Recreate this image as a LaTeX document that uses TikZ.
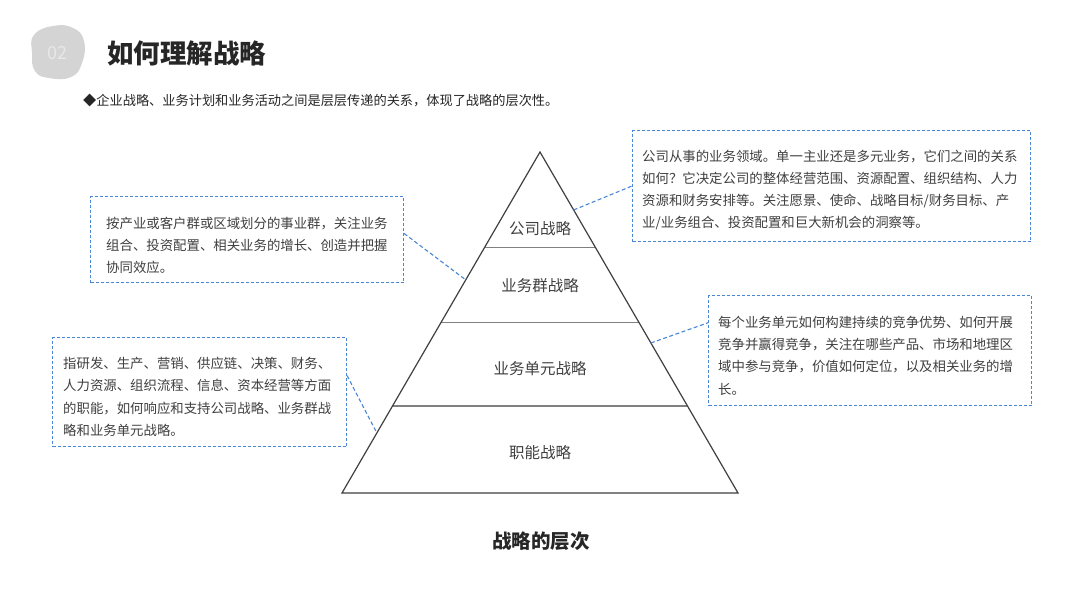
\documentclass[tikz,border=0pt]{standalone}
\usepackage{xcolor}
\usepackage{fontspec}
\setmainfont{Noto Sans CJK SC}
\usetikzlibrary{calc, positioning}

\definecolor{testo}{RGB}{64,64,64}
\definecolor{scuro}{RGB}{38,38,38}
\definecolor{bordo}{RGB}{74,134,214}
\definecolor{macchia}{RGB}{212,212,212}
\definecolor{cifra}{RGB}{232,232,232}

\begin{document}
\begin{tikzpicture}[x=1pt, y=-1pt,
    notabox/.style={draw=bordo, line width=1pt, dash pattern=on 3pt off 2pt, inner sep=0pt, anchor=north west},
    notatesto/.style={anchor=west, align=left, inner sep=0pt, text=testo, font=\fontsize{13.4}{22.3}\selectfont},
    livello/.style={text=testo, inner sep=0pt, font=\fontsize{15.5}{18}\selectfont},
    legame/.style={draw=bordo, line width=1.1pt, dash pattern=on 4pt off 2.5pt}]

    \fill[white] (0,0) rectangle (1080,608);
    \useasboundingbox (0,0) rectangle (1080,608);

    % Titolo
    \fill[macchia] plot[smooth cycle, tension=0.8] coordinates {(34,35) (53,26) (73,28) (84,41) (82,63) (71,77) (49,78) (35,71) (32,53)};
    \node[text=cifra, font=\fontsize{18}{20}\selectfont] (num) at (57,53) {02};
    \node[anchor=west, inner sep=0pt, text=scuro, font=\fontsize{26.5}{30}\selectfont\bfseries] (titolo) at (107,53) {如何理解战略};
    \node[anchor=west, inner sep=0pt, text=scuro, font=\fontsize{13.2}{15}\selectfont] (sottotitolo) at (83,100) {◆企业战略、业务计划和业务活动之间是层层传递的关系，体现了战略的层次性。};

    % Piramide
    \coordinate (cima) at (540,152);
    \coordinate (sx) at (342,493);
    \coordinate (dx) at (738,493);
    \foreach \f in {0.28,0.5,0.745}
        \draw[line width=1.1pt, draw=gray] ($(cima)!\f!(sx)$) -- ($(cima)!\f!(dx)$);
    \draw[line width=1.2pt, draw=testo] (cima) -- (sx) -- (dx) -- cycle;

    \node[livello] (l1) at (540,229) {公司战略};
    \node[livello] (l2) at (540,286) {业务群战略};
    \node[livello] (l3) at (540,369) {业务单元战略};
    \node[livello] (l4) at (540,453) {职能战略};

    % Note
    \node[notabox, minimum width=398pt, minimum height=111pt] (n1) at (632,130) {};
    \node[notatesto] (t1) at ([xshift=10pt, yshift=-4pt]n1.west) {公司从事的业务领域。单一主业还是多元业务，它们之间的关系\\如何？它决定公司的整体经营范围、资源配置、组织结构、人力\\资源和财务安排等。关注愿景、使命、战略目标/财务目标、产\\业/业务组合、投资配置和巨大新机会的洞察等。};

    \node[notabox, minimum width=313pt, minimum height=86pt] (n2) at (90,196) {};
    \node[notatesto] (t2) at ([xshift=16pt, yshift=-6pt]n2.west) {按产业或客户群或区域划分的事业群，关注业务\\组合、投资配置、相关业务的增长、创造并把握\\协同效应。};

    \node[notabox, minimum width=323pt, minimum height=110pt] (n3) at (708,295) {};
    \node[notatesto] (t3) at ([xshift=10pt, yshift=-5pt]n3.west) {每个业务单元如何构建持续的竞争优势、如何开展\\竞争并赢得竞争，关注在哪些产品、市场和地理区\\域中参与竞争，价值如何定位，以及相关业务的增\\长。};

    \node[notabox, minimum width=294pt, minimum height=109pt] (n4) at (52,337) {};
    \node[notatesto] (t4) at ([xshift=11pt, yshift=-5pt]n4.west) {指研发、生产、营销、供应链、决策、财务、\\人力资源、组织流程、信息、资本经营等方面\\的职能，如何响应和支持公司战略、业务群战\\略和业务单元战略。};

    % Legami
    \draw[legame] ($(cima)!0.17!(dx)$) -- (n1.west);
    \draw[legame] ($(n2.north east)!0.43!(n2.south east)$) -- ($(cima)!0.375!(sx)$);
    \draw[legame] ($(cima)!0.56!(dx)$) -- ($(n3.north west)!0.25!(n3.south west)$);
    \draw[legame] ($(n4.north east)!0.35!(n4.south east)$) -- ($(cima)!0.824!(sx)$);

    % Didascalia
    \node[text=scuro, font=\fontsize{19.5}{22}\selectfont\bfseries] (didascalia) at (541,541) {战略的层次};
\end{tikzpicture}
\end{document}
